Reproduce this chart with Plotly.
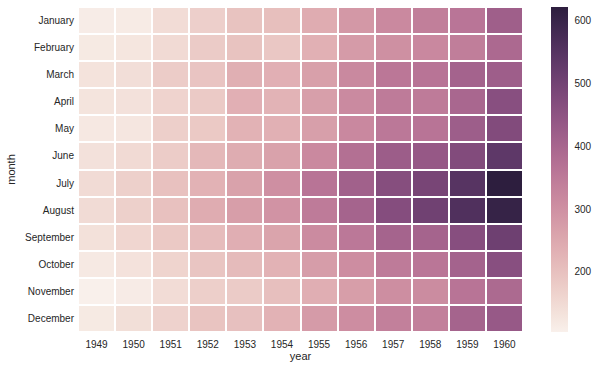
import numpy as np
import plotly.graph_objects as go

years = ["1949", "1950", "1951", "1952", "1953", "1954", "1955", "1956", "1957", "1958", "1959", "1960"]
months = ["January", "February", "March", "April", "May", "June", "July", "August",
          "September", "October", "November", "December"]

p1949 = [112, 118, 132, 129, 121, 135, 148, 148, 136, 119, 104, 118]
p1950 = [115, 126, 141, 135, 125, 149, 170, 170, 158, 133, 114, 140]
p1951 = [145, 150, 178, 163, 172, 178, 199, 199, 184, 162, 146, 166]
p1952 = [171, 180, 193, 181, 183, 218, 230, 242, 209, 191, 172, 194]
p1953 = [196, 196, 236, 235, 229, 243, 264, 272, 237, 211, 180, 201]
p1954 = [204, 188, 235, 227, 234, 264, 302, 293, 259, 229, 203, 229]
p1955 = [242, 233, 267, 269, 270, 315, 364, 347, 312, 274, 237, 278]
p1956 = [284, 277, 317, 313, 318, 374, 413, 405, 355, 306, 271, 306]
p1957 = [315, 301, 356, 348, 355, 422, 465, 467, 404, 347, 305, 336]
p1958 = [340, 318, 362, 348, 363, 435, 491, 505, 404, 359, 310, 337]
p1959 = [360, 342, 406, 396, 420, 472, 548, 559, 463, 407, 362, 405]
p1960 = [417, 391, 419, 461, 472, 535, 622, 606, 508, 461, 390, 432]

cols = [p1949, p1950, p1951, p1952, p1953, p1954, p1955, p1956, p1957, p1958, p1959, p1960]
z = [[cols[j][i] for j in range(len(years))] for i in range(len(months))]


def cubehelix_scale(n=21, start=0.0, rot=0.4, gamma=1.0, hue=0.8, light=0.95, dark=0.15):
    def f(x, p0, p1):
        xg = x ** gamma
        a = hue * xg * (1 - xg) / 2
        phi = 2 * np.pi * (start / 3 + rot * x)
        return np.clip(xg + a * (p0 * np.cos(phi) + p1 * np.sin(phi)), 0, 1)
    scale = []
    for k in range(n):
        t = k / (n - 1)
        x = light + (dark - light) * t
        r = f(x, -0.14861, 1.78277)
        g = f(x, -0.29227, -0.90649)
        b = f(x, 1.97294, 0.0)
        scale.append([t, "rgb(%d,%d,%d)" % (round(r * 255), round(g * 255), round(b * 255))])
    return scale


font_color = "#262626"
fam = "Liberation Sans, Arial, sans-serif"
fig = go.Figure(go.Heatmap(
    z=z, x=years, y=months,
    colorscale=cubehelix_scale(),
    zmin=104, zmax=622,
    xgap=2, ygap=2,
    colorbar=dict(
        x=1.063, xanchor="left", y=0.5, yanchor="middle",
        len=1.0, lenmode="fraction", thickness=17,
        outlinewidth=0, ticks="outside", ticklen=5, tickcolor="rgba(0,0,0,0)",
        tickvals=[200, 300, 400, 500, 600],
        tickfont=dict(size=10, color=font_color, family=fam),
        ypad=0, xpad=0,
    ),
))

fig.update_layout(
    width=598, height=370,
    margin=dict(l=78, r=75, t=7, b=38, autoexpand=False),
    paper_bgcolor="white", plot_bgcolor="white",
    font=dict(family=fam, size=10, color=font_color),
    xaxis=dict(title=dict(text="year", font=dict(size=11), standoff=3), showgrid=False,
               zeroline=False, ticks="", ticklen=0, tickfont=dict(size=10), automargin=False,
               ticklabelstandoff=5),
    yaxis=dict(title=dict(text="month", font=dict(size=11), standoff=7), showgrid=False,
               zeroline=False, autorange="reversed", ticks="", tickfont=dict(size=10), automargin=False,
               ticklabelstandoff=3),
)

fig.write_html("out.html", config={"displayModeBar": False},
               post_script="document.body.style.margin='0';document.body.style.overflow='hidden';")
